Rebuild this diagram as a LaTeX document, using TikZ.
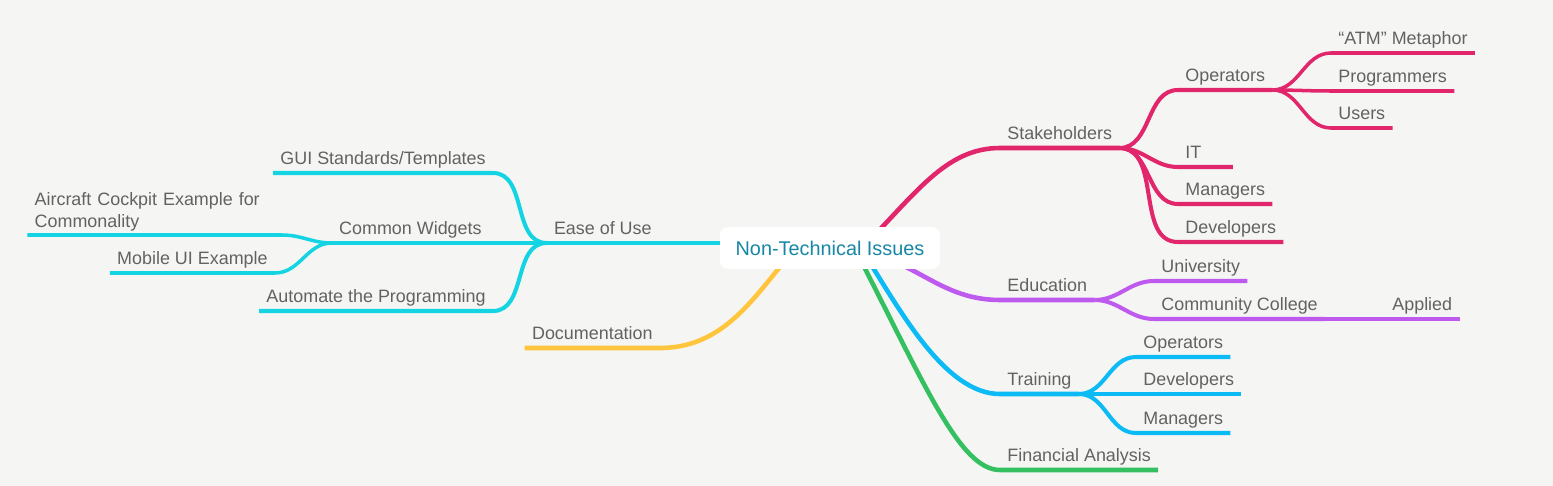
\documentclass[tikz,border=0pt]{standalone}
\usepackage{fontspec}
\setmainfont{Liberation Sans}
\usetikzlibrary{calc}

\definecolor{bgcol}{RGB}{245,246,243}
\definecolor{txtgray}{RGB}{98,98,98}
\definecolor{roottxt}{RGB}{22,135,165}
\definecolor{pinkc}{RGB}{226,38,108}
\definecolor{cyanc}{RGB}{20,212,228}
\definecolor{yellowc}{RGB}{255,197,60}
\definecolor{purplec}{RGB}{190,90,238}
\definecolor{bluec}{RGB}{12,186,245}
\definecolor{greenc}{RGB}{52,192,96}

\pgfdeclarelayer{bg}
\pgfdeclarelayer{edges}
\pgfsetlayers{bg,edges,main}

\begin{document}
\begin{tikzpicture}[
    x=0.02cm, y=-0.02cm,
    line cap=round,
    root/.style={fill=white,rounded corners=4.5pt,minimum width=4.4cm,minimum height=0.84cm,
                 text=roottxt,font=\fontsize{11.3}{13}\selectfont},
    topic/.style={inner xsep=4pt,inner ysep=2pt,text=txtgray,font=\fontsize{10.2}{12.5}\selectfont},
    rtopic/.style={topic,text depth=2.5pt,anchor=south west},
    ltopic/.style={topic,text depth=2.5pt,anchor=south east},
    lvl1/.style={line width=2.6pt},
    lvl2/.style={line width=2.3pt},
    lvl3/.style={line width=2pt},
  ]

  \begin{pgfonlayer}{bg}
    \fill[bgcol] (0,0) rectangle (1553,486);
  \end{pgfonlayer}
  \useasboundingbox (0,0) rectangle (1553,486);

  \node (root) at (830,248) [root] {Non-Technical Issues};

  % right side topics

  \node (stake) at (1000,148) [rtopic] {Stakeholders};
  \node (soper) at (1178,90) [rtopic] {Operators};
  \node (it) at (1178,167) [rtopic,text width=0.8cm,align=left] {IT};
  \node (smgr) at (1178,204) [rtopic] {Managers};
  \node (sdev) at (1178,242) [rtopic] {Developers};
  \node (atm) at (1331,53) [rtopic] {``ATM'' Metaphor};
  \node (prog) at (1331,91) [rtopic] {Programmers};
  \node (users) at (1331,128) [rtopic] {Users};

  \node (edu) at (1000,300) [rtopic] {Education};
  \node (univ) at (1154,281) [rtopic] {University};
  \node (cc) at (1154,319) [rtopic] {Community College};
  \node (applied) at (1385,319) [rtopic] {Applied};

  \node (train) at (1000,394) [rtopic] {Training};
  \node (toper) at (1136,357) [rtopic] {Operators};
  \node (tdev) at (1136,394) [rtopic] {Developers};
  \node (tmgr) at (1136,433) [rtopic] {Managers};

  \node (fin) at (1000,470) [rtopic] {Financial Analysis};

  % left side topics

  \node (ease) at (659,243) [ltopic] {Ease of Use};
  \node (gui) at (493,173) [ltopic] {GUI Standards/Templates};
  \node (widgets) at (489,243) [ltopic] {Common Widgets};
  \node (auto) at (493,311) [ltopic] {Automate the Programming};
  \node (aircraft) at (282,235) [topic,anchor=south east,text width=4.8cm,align=left]
        {Aircraft Cockpit Example for\\Commonality};
  \node (mobile) at (275,273) [ltopic] {Mobile UI Example};

  \node (doc) at (660,348) [ltopic] {Documentation};

  \begin{pgfonlayer}{edges}

  % stakeholders
  \draw[pinkc,lvl1] ($(root.center)+(30,2)$) .. controls +(55,-55) and +(-55,0) .. (stake.south west) -- (stake.south east);
  \foreach \n in {soper,it,smgr,sdev}
    \draw[pinkc,lvl2] (stake.south east) to[out=0,in=180] (\n.south west) -- (\n.south east);
  \foreach \n in {atm,prog,users}
    \draw[pinkc,lvl3] (soper.south east) to[out=0,in=180] (\n.south west) -- (\n.south east);

  % education
  \draw[purplec,lvl1] ($(root.center)+(55,10)$) .. controls +(40,14) and +(-50,0) .. (edu.south west) -- (edu.south east);
  \foreach \n in {univ,cc}
    \draw[purplec,lvl2] (edu.south east) to[out=0,in=180] (\n.south west) -- (\n.south east);
  \draw[purplec,lvl3] (cc.south east) -- (applied.south west) -- (applied.south east);

  % training
  \draw[bluec,lvl1] ($(root.center)+(35,7)$) .. controls +(35,55) and +(-55,0) .. (train.south west) -- (train.south east);
  \foreach \n in {toper,tdev,tmgr}
    \draw[bluec,lvl2] (train.south east) to[out=0,in=180] (\n.south west) -- (\n.south east);

  % financial analysis
  \draw[greenc,lvl1] ($(root.center)+(28,7)$) .. controls +(67,130) and +(-40,0) .. (fin.south west) -- (fin.south east);

  % documentation
  \draw[yellowc,lvl1] ($(root.center)+(-40,7)$) .. controls +(-35,40) and +(65,0) .. (doc.south east) -- (doc.south west);

  % ease of use
  \draw[cyanc,lvl1] ($(root.center)+(-60,-5)$) -- (ease.south east) -- (ease.south west);
  \foreach \n in {gui,auto}
    \draw[cyanc,lvl2] (ease.south west) to[out=180,in=0] (\n.south east) -- (\n.south west);
  \draw[cyanc,lvl2] (ease.south west) -- (widgets.south east) -- (widgets.south west);
  \foreach \n in {aircraft,mobile}
    \draw[cyanc,lvl3] (widgets.south west) to[out=180,in=0] (\n.south east) -- (\n.south west);

  \end{pgfonlayer}

\end{tikzpicture}
\end{document}
